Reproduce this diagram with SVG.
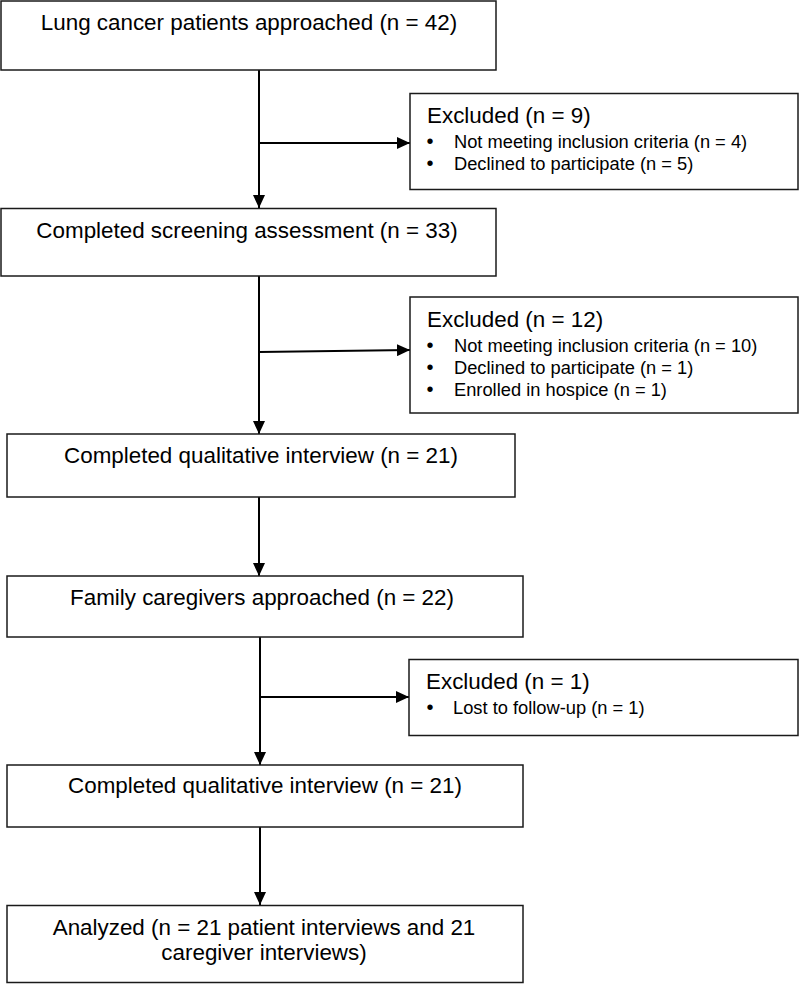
<svg xmlns="http://www.w3.org/2000/svg" width="800" height="984" viewBox="0 0 800 984">
<style>
.box{fill:#fff;stroke:#1a1a1a;stroke-width:1.5}
.t{font-family:"Liberation Sans",Arial,sans-serif;font-size:22.4px;fill:#000}
.c{text-anchor:middle}
.b{font-family:"Liberation Sans",Arial,sans-serif;font-size:18.3px;fill:#000}
.dot{text-anchor:middle;font-size:20px}
.ln{stroke:#000;stroke-width:2;fill:none}
</style>
<defs>
<marker id="ah" markerUnits="userSpaceOnUse" markerWidth="13" markerHeight="12" refX="13" refY="6" orient="auto">
<path d="M0,0 L13,6 L0,12 Z" fill="#000"/>
</marker>
</defs>
<rect width="800" height="984" fill="#fff"/>
<g id="connectors">
<line class="ln" x1="259" y1="70" x2="259" y2="208" marker-end="url(#ah)"/>
<line class="ln" x1="259" y1="143" x2="410" y2="143" marker-end="url(#ah)"/>
<line class="ln" x1="259" y1="276" x2="259" y2="434" marker-end="url(#ah)"/>
<line class="ln" x1="259" y1="352" x2="410" y2="350" marker-end="url(#ah)"/>
<line class="ln" x1="259" y1="497" x2="259" y2="576" marker-end="url(#ah)"/>
<line class="ln" x1="260" y1="637" x2="260" y2="765" marker-end="url(#ah)"/>
<line class="ln" x1="260" y1="697" x2="409" y2="697" marker-end="url(#ah)"/>
<line class="ln" x1="260" y1="827" x2="260" y2="905" marker-end="url(#ah)"/>
</g>
<g id="n1">
<rect class="box" x="1" y="1" width="495" height="69"/>
<text class="t c" x="249" y="30">Lung cancer patients approached (n = 42)</text>
</g>
<g id="x1">
<rect class="box" x="410" y="93.5" width="388" height="96"/>
<text class="t" x="427" y="123">Excluded (n = 9)</text>
<text class="b dot" x="430" y="148">•</text>
<text class="b" x="454" y="148">Not meeting inclusion criteria (n = 4)</text>
<text class="b dot" x="430" y="169.5">•</text>
<text class="b" x="454" y="169.5">Declined to participate (n = 5)</text>
</g>
<g id="n2">
<rect class="box" x="1" y="208.5" width="495" height="67.5"/>
<text class="t c" x="247" y="238">Completed screening assessment (n = 33)</text>
</g>
<g id="x2">
<rect class="box" x="410" y="297" width="388" height="116"/>
<text class="t" x="427" y="327">Excluded (n = 12)</text>
<text class="b dot" x="430" y="352">•</text>
<text class="b" x="454" y="352">Not meeting inclusion criteria (n = 10)</text>
<text class="b dot" x="430" y="374">•</text>
<text class="b" x="454" y="374">Declined to participate (n = 1)</text>
<text class="b dot" x="430" y="396">•</text>
<text class="b" x="454" y="396">Enrolled in hospice (n = 1)</text>
</g>
<g id="n3">
<rect class="box" x="7" y="434" width="508" height="63"/>
<text class="t c" x="261" y="463">Completed qualitative interview (n = 21)</text>
</g>
<g id="n4">
<rect class="box" x="7" y="576" width="516" height="61"/>
<text class="t c" x="262" y="605">Family caregivers approached (n = 22)</text>
</g>
<g id="x3">
<rect class="box" x="409" y="659.5" width="389" height="76"/>
<text class="t" x="426" y="689">Excluded (n = 1)</text>
<text class="b dot" x="430" y="714">•</text>
<text class="b" x="453" y="714">Lost to follow-up (n = 1)</text>
</g>
<g id="n5">
<rect class="box" x="7" y="765" width="516" height="62"/>
<text class="t c" x="265" y="793">Completed qualitative interview (n = 21)</text>
</g>
<g id="n6">
<rect class="box" x="7" y="905.5" width="516" height="77"/>
<text class="t c" x="264" y="935">Analyzed (n = 21 patient interviews and 21</text>
<text class="t c" x="264" y="960">caregiver interviews)</text>
</g>
</svg>
